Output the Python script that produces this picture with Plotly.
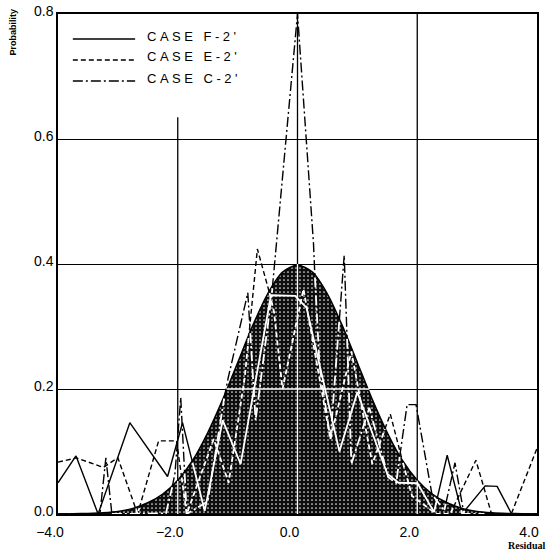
import numpy as np
import plotly.graph_objects as go

# ---- reference curve ----
curve_x = [-4.0, -3.75, -3.5, -3.25, -3.0, -2.75, -2.5, -2.25, -2.0, -1.75, -1.5, -1.25,
           -1.0, -0.75, -0.5, -0.25, 0.0, 0.25, 0.5, 0.75, 1.0, 1.25, 1.5, 1.75, 2.0,
           2.25, 2.5, 2.75, 3.0, 3.25, 3.5, 3.75, 4.0]
curve_y = [0.000, 0.0004, 0.001, 0.002, 0.004, 0.009, 0.018, 0.032, 0.054, 0.086, 0.130, 0.183,
           0.242, 0.301, 0.352, 0.387, 0.399, 0.387, 0.352, 0.301, 0.242, 0.183, 0.130, 0.086, 0.054,
           0.032, 0.018, 0.009, 0.004, 0.002, 0.001, 0.0004, 0.000]

# ---- CASE F-2' (solid) ----
f2_x = [-4.0, -3.7, -3.33, -2.8, -2.17, -1.92, -1.55, -1.25, -0.95, -0.45, -0.05, 0.15,
        0.7, 1.0, 1.48, 1.67, 2.0, 2.28, 2.5, 2.75, 3.12, 3.33, 3.57, 4.0]
f2_y = [0.05, 0.093, 0.0, 0.146, 0.06, 0.146, 0.005, 0.15, 0.08, 0.35, 0.35, 0.33,
        0.10, 0.195, 0.066, 0.05, 0.05, 0.003, 0.094, 0.0, 0.045, 0.045, 0.0, 0.0]

# ---- CASE E-2' (dashed) ----
e2_x = [-4.0, -3.7, -3.25, -3.0, -2.67, -2.33, -2.02, -1.85, -1.4, -1.15, -0.9, -0.67,
        -0.4, -0.25, 0.1, 0.3, 0.55, 0.9, 1.25, 1.55, 1.9, 2.3, 2.55, 2.98, 3.23, 3.57, 4.0]
e2_y = [0.083, 0.09, 0.074, 0.09, 0.0, 0.117, 0.117, 0.0, 0.12, 0.05, 0.2, 0.424,
        0.33, 0.2, 0.36, 0.25, 0.12, 0.26, 0.08, 0.16, 0.03, 0.0, 0.0, 0.086, 0.0, 0.0, 0.105]

# ---- CASE C-2' (dash-dot) ----
c2_x = [-4.0, -3.3, -3.2, -3.1, -2.2, -2.05, -1.95, -1.85, -1.5, -1.2, -0.83, -0.7,
        -0.45, 0.0, 0.25, 0.35, 0.55, 0.78, 0.9, 1.2, 1.5, 1.65, 1.82, 1.98, 2.23,
        2.45, 2.63, 2.78, 4.0]
c2_y = [0.0, 0.0, 0.09, 0.0, 0.0, 0.06, 0.186, 0.0, 0.02, 0.2, 0.354, 0.15,
        0.33, 0.8, 0.47, 0.25, 0.12, 0.414, 0.08, 0.17, 0.06, 0.05, 0.175, 0.175, 0.034,
        0.005, 0.082, 0.0, 0.0]

x_ticks = [-4.0, -2.0, 0.0, 2.0, 4.0]
x_ticktext = ["\u22124.0", "\u22122.0", "0.0", "2.0", "4.0"]
y_ticks = [0.0, 0.2, 0.4, 0.6, 0.8]
y_ticktext = ["0.0", "0.2", "0.4", "0.6", "0.8"]

series = [
    ("CASE F-2'", f2_x, f2_y, "solid"),
    ("CASE E-2'", e2_x, e2_y, "5px,3px"),
    ("CASE C-2'", c2_x, c2_y, "10px,3px,2px,3px"),
]

cx = np.array(curve_x)
cy = np.array(curve_y)


def densify(xs, ys, n=60):
    X, Y = [], []
    for i in range(len(xs) - 1):
        t = np.linspace(0, 1, n, endpoint=False)
        X.extend(xs[i] + (xs[i + 1] - xs[i]) * t)
        Y.extend(ys[i] + (ys[i + 1] - ys[i]) * t)
    X.append(xs[-1]); Y.append(ys[-1])
    return np.array(X), np.array(Y)


def split(xs, ys):
    X, Y = densify(xs, ys)
    mx = (X[:-1] + X[1:]) / 2
    my = (Y[:-1] + Y[1:]) / 2
    inside = my < np.interp(mx, cx, cy) - 0.003
    out = {}
    for want in (True, False):
        ox, oy = [], []
        prev = False
        for j, f in enumerate(inside):
            if f == want:
                if not prev:
                    if ox:
                        ox.append(None); oy.append(None)
                    ox.append(X[j]); oy.append(Y[j])
                ox.append(X[j + 1]); oy.append(Y[j + 1])
                prev = True
            else:
                prev = False
        out[want] = (ox, oy)
    return out


fig = go.Figure()

# filled reference curve
fig.add_trace(go.Scatter(
    x=curve_x, y=curve_y, mode="lines", fill="tozeroy",
    line=dict(color="black", width=1.5, shape="spline", smoothing=0.6),
    fillcolor="#0e0e0e",
    fillpattern=dict(shape=".", bgcolor="#0e0e0e", fgcolor="#e6e6e6",
                     size=4, solidity=0.15, fillmode="replace"),
    hoverinfo="skip", showlegend=False, name="Normal"))

# gridline pieces that fall inside the dark area show as white
grid_lines = [([-4.0, 4.0], [0.2, 0.2]), ([0.0, 0.0], [0.0, 0.8]),
              ([-2.0, -2.0], [0.0, 0.635]), ([2.0, 2.0], [0.0, 0.8])]
for gx, gy in grid_lines:
    ix, iy = split(gx, gy)[True]
    if ix:
        fig.add_trace(go.Scatter(x=ix, y=iy, mode="lines",
                                 line=dict(color="white", width=1.3),
                                 hoverinfo="skip", showlegend=False))

# series: white where inside the dark area, black elsewhere
for name, xs, ys, dash in series:
    parts = split(xs, ys)
    ix, iy = parts[True]
    ox, oy = parts[False]
    fig.add_trace(go.Scatter(x=ix, y=iy, mode="lines", name=name,
                             line=dict(color="white", width=1.8, dash=dash),
                             hoverinfo="skip", showlegend=False))
    fig.add_trace(go.Scatter(x=ox, y=oy, mode="lines", name=name,
                             line=dict(color="black", width=1.4, dash=dash),
                             showlegend=False))

# vertical grid lines (x = -2 stops below the legend)
for gx, gy in grid_lines[1:]:
    fig.add_shape(type="line", xref="x", yref="y", x0=gx[0], x1=gx[1], y0=gy[0], y1=gy[1],
                  line=dict(color="black", width=1.3), layer="below")

# legend (drawn by hand to match the long sample lines)
leg_y = [0.950, 0.908, 0.866]
for (name, _, _, dash), yy in zip(series, leg_y):
    fig.add_shape(type="line", xref="paper", yref="paper", x0=0.031, x1=0.161, y0=yy, y1=yy,
                  line=dict(color="black", width=1.4, dash=dash))
    fig.add_annotation(xref="paper", yref="paper", x=0.182, y=yy + 0.006, xanchor="left",
                       yanchor="middle", showarrow=False,
                       text='<span style="letter-spacing:3.5px">' + name + "</span>",
                       font=dict(family="Liberation Sans", size=13, color="black"))

fig.add_annotation(xref="paper", yref="paper", x=-0.094, y=0.965, textangle=-90,
                   xanchor="center", yanchor="middle", showarrow=False, text="<b>Probability</b>",
                   font=dict(family="Liberation Sans", size=9, color="black"))
fig.add_annotation(xref="paper", yref="paper", x=1.021, y=-0.062, xanchor="right",
                   yanchor="middle", showarrow=False, text="<b>Residual</b>",
                   font=dict(family="Liberation Serif", size=10, color="black"))

fig.update_layout(
    width=548, height=552,
    margin=dict(l=58, r=11, t=14, b=38),
    plot_bgcolor="white", paper_bgcolor="white",
    font=dict(family="Liberation Sans", color="black"),
    xaxis=dict(range=[-4, 4], showline=True, mirror=True, linecolor="black", linewidth=1.5,
               showgrid=False, zeroline=False, ticks="", tickvals=x_ticks, ticktext=x_ticktext,
               tickfont=dict(size=14, color="black"), ticklabelshift=-8, ticklabelstandoff=4,
               automargin=False),
    yaxis=dict(range=[0, 0.8], showline=True, mirror=True, linecolor="black", linewidth=1.5,
               showgrid=True, gridcolor="black", gridwidth=1.3, zeroline=False, ticks="",
               tickvals=y_ticks, ticktext=y_ticktext, tickfont=dict(size=14, color="black"),
               ticklabelstandoff=0, ticklabelshift=-3, automargin=False),
)

fig.write_html("out.html", config={"displayModeBar": False},
               post_script="document.body.style.margin='0px';")
